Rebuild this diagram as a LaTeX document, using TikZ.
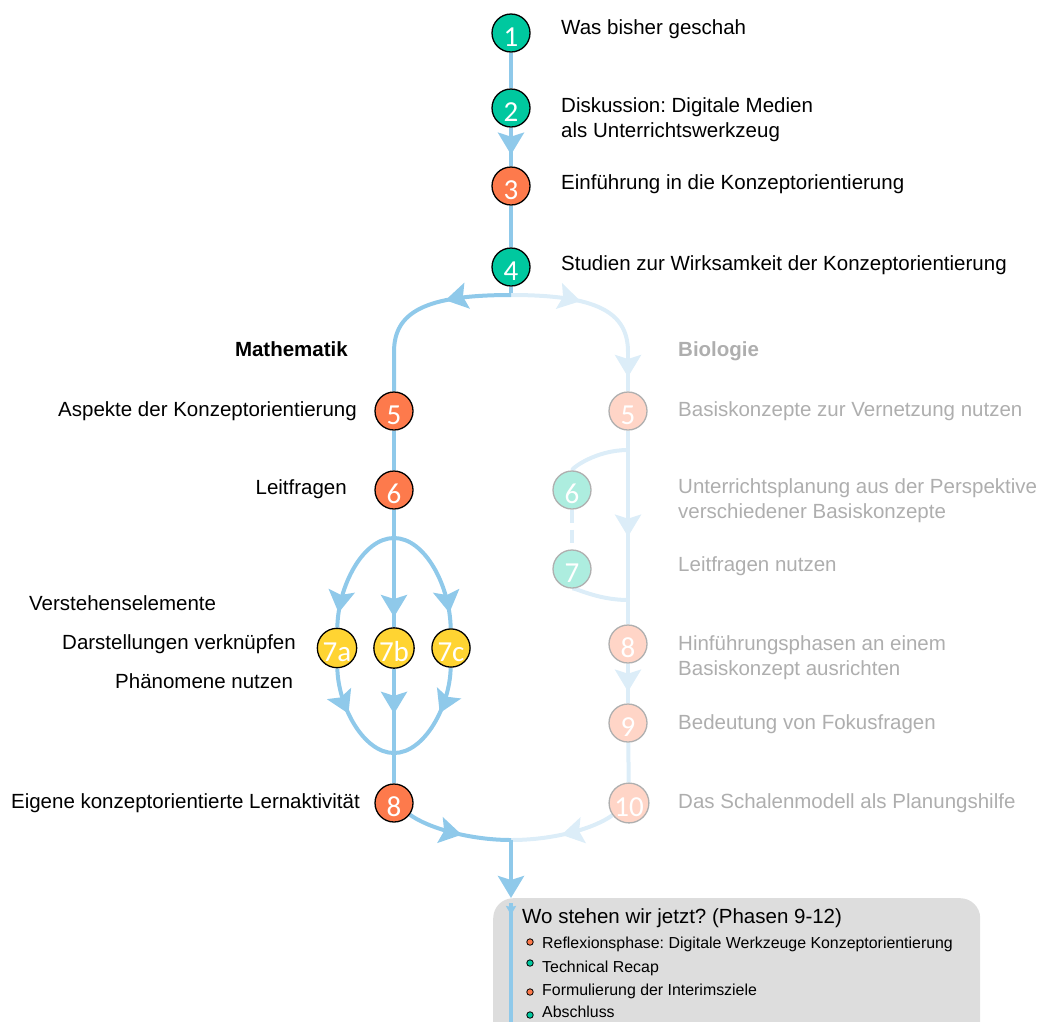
\documentclass[tikz,border=0pt]{standalone}
\usepackage{fontspec}
\setmainfont{Liberation Sans}
\newfontfamily\carlito{Carlito}
\usepackage{xcolor}
\usetikzlibrary{arrows.meta,positioning,calc,backgrounds,decorations.markings}

\definecolor{flowblue}{HTML}{8FC9EA}
\definecolor{fadeblue}{HTML}{DCEDF8}
\definecolor{greenc}{HTML}{00C89F}
\definecolor{orangec}{HTML}{FD7A4C}
\definecolor{yellowc}{HTML}{FFD432}
\definecolor{fadeorange}{HTML}{FFD5C7}
\definecolor{fadegreen}{HTML}{ADEDDF}
\definecolor{fadeborder}{HTML}{AFAFAF}
\definecolor{fadetext}{HTML}{AEAEAE}
\definecolor{boxgray}{HTML}{DDDDDD}

\newcommand{\lblfont}{\fontsize{20.5}{24.5}\selectfont}
\newcommand{\itemfont}{\fontsize{15.9}{19}\selectfont}
\newcommand{\numfont}{\carlito\fontsize{29}{29}\selectfont}
\frenchspacing

\begin{document}
\begin{tikzpicture}[x=1pt, y=-1pt,
    bigtip/.tip={Stealth[length=22pt,width=26pt,inset=4pt]},
    smalltip/.tip={Stealth[length=9pt,width=10pt,inset=1pt]},
    stage/.style={circle, draw=black, line width=1.3pt, minimum size=38pt, inner sep=0pt,
      text=white, font=\numfont, text height=27pt, text depth=0pt},
    stagegreen/.style={stage, fill=greenc},
    stageorange/.style={stage, fill=orangec},
    stageyellow/.style={stage, fill=yellowc},
    fadedorange/.style={stage, draw=fadeborder, fill=fadeorange},
    fadedgreen/.style={stage, draw=fadeborder, fill=fadegreen},
    lbl/.style={inner sep=0pt, font=\lblfont},
    fadelbl/.style={lbl, text=fadetext},
    itemlbl/.style={inner sep=0pt, font=\itemfont, anchor=base west},
    dot/.style={circle, draw=black, line width=0.8pt, minimum size=6.5pt, inner sep=0pt},
    flow/.style={flowblue, line width=4pt},
    fadeflow/.style={fadeblue, line width=4pt},
    arrowat/.style={postaction={decorate, decoration={markings,
      mark=at position #1 with {\arrow{bigtip}}}}},
    recapbox/.style={fill=boxgray, rounded corners=20pt, minimum width=487pt,
      minimum height=150pt, inner sep=0pt}]
  \useasboundingbox (0,0) rectangle (1043,1021);

  % common part
  \node[stagegreen] (s1) at (511,33) {1};
  \node[stagegreen] (s2) at (511,108) {2};
  \node[stageorange] (s3) at (511,186) {3};
  \node[stagegreen] (s4) at (511,267) {4};
  \node[lbl, anchor=base west] (was) at (561,34) {Was bisher geschah};
  \node[lbl, anchor=base west, align=left] (disk) at (561,137) {Diskussion: Digitale Medien\\als Unterrichtswerkzeug};
  \node[lbl, anchor=base west] (einf) at (561,189) {Einführung in die Konzeptorientierung};
  \node[lbl, anchor=base west] (stud) at (561,270) {Studien zur Wirksamkeit der Konzeptorientierung};

  % Mathematik
  \node[lbl, anchor=base east, font=\lblfont\bfseries] (mathe) at (348,356) {Mathematik};
  \node[stageorange] (ma5) at (394,411) {5};
  \node[stageorange] (ma6) at (394,490) {6};
  \node[stageyellow] (ma7a) at (337,648) {7a};
  \node[stageyellow] (ma7b) at (394,648) {7b};
  \node[stageyellow] (ma7c) at (451,648) {7c};
  \node[stageorange] (ma8) at (394,803) {8};
  \node[lbl, anchor=base east] (aspekte) at (357,416) {Aspekte der Konzeptorientierung};
  \node[lbl, anchor=base east] (leit) at (347,494) {Leitfragen};
  \node[lbl, anchor=base west] (verst) at (29,610) {Verstehenselemente};
  \node[lbl, anchor=base west] (darst) at (62,649) {Darstellungen verknüpfen};
  \node[lbl, anchor=base west] (phaen) at (115,688) {Phänomene nutzen};
  \node[lbl, anchor=base east] (eigene) at (360,808) {Eigene konzeptorientierte Lernaktivität};

  % Biologie
  \node[fadelbl, anchor=base west, font=\lblfont\bfseries] (bio) at (678,356) {Biologie};
  \node[fadedorange] (bio5) at (628,411) {5};
  \node[fadedgreen] (bio6) at (572,490) {6};
  \node[fadedgreen] (bio7) at (572,569) {7};
  \node[fadedorange] (bio8) at (628,644) {8};
  \node[fadedorange] (bio9) at (628,723) {9};
  \node[fadedorange] (bio10) at (629,803) {10};
  \node[fadelbl, anchor=base west] (basis) at (678,416) {Basiskonzepte zur Vernetzung nutzen};
  \node[fadelbl, anchor=base west, align=left] (unterr) at (678,518) {Unterrichtsplanung aus der Perspektive\\verschiedener Basiskonzepte};
  \node[fadelbl, anchor=base west] (leitbio) at (678,571) {Leitfragen nutzen};
  \node[fadelbl, anchor=base west, align=left] (hinf) at (678,675) {Hinführungsphasen an einem\\Basiskonzept ausrichten};
  \node[fadelbl, anchor=base west] (bedeut) at (678,729) {Bedeutung von Fokusfragen};
  \node[fadelbl, anchor=base west] (schalen) at (678,808) {Das Schalenmodell als Planungshilfe};

  % Phasen 9-12
  \node[lbl, anchor=base west] (wo) at (522,923) {Wo stehen wir jetzt? (Phasen 9-12)};
  \node[dot, fill=orangec] (d1) at (530,942) {};
  \node[dot, fill=greenc] (d2) at (530,963) {};
  \node[dot, fill=orangec] (d3) at (530,992) {};
  \node[dot, fill=greenc] (d4) at (530,1015) {};
  \node[itemlbl] (refl) at (542,948) {Reflexionsphase: Digitale Werkzeuge Konzeptorientierung};
  \node[itemlbl] (recap) at (542,972) {Technical Recap};
  \node[itemlbl] (formul) at (542,995) {Formulierung der Interimsziele};
  \node[itemlbl] (absch) at (542,1017) {Abschluss};

  \coordinate (topfork) at (511,295);
  \coordinate (mcorner) at (394,352);
  \coordinate (bcorner) at (628,352);
  \coordinate (elltop) at (394,538);
  \coordinate (ellbot) at (394,753);
  \coordinate (barc1) at (628,450);
  \coordinate (barc2) at (628,600);
  \coordinate (botjoin) at (511,840);
  \coordinate (boxin) at (511,903);
  \coordinate (boxout) at (511,1030);

  \begin{scope}[on background layer]
    \node[recapbox, anchor=north west] (phasen) at (493,898) {};

    \draw[flow] (s1) -- (s2);
    \draw[flow, arrowat=27pt] (s2) -- (s3);
    \draw[flow] (s3) -- (s4);
    \draw[flow] (s4) -- (topfork);

    \draw[fadeflow, arrowat=70pt] (topfork) .. controls (597,295) and (628,312) .. (bcorner);
    \draw[fadeflow, arrowat=25pt] (bcorner) -- (bio5);
    \draw[flow, arrowat=66pt] (topfork) .. controls (425,295) and (394,312) .. (mcorner) -- (ma5);

    \draw[flow] (ma5) -- (ma6);
    \draw[flow] (ma6) -- (elltop);
    \draw[flow, arrowat=79pt] (elltop) -- (ma7b);
    \draw[flow, arrowat=45pt] (ma7b) -- (ellbot);
    \draw[flow] (ellbot) -- (ma8);
    \draw[flow, arrowat=100pt] (elltop) .. controls (363,538) and (338,586) .. (ma7a);
    \draw[flow, arrowat=47pt] (ma7a) .. controls (338,705) and (363,753) .. (ellbot);
    \draw[flow, arrowat=100pt] (elltop) .. controls (425,538) and (450,586) .. (ma7c);
    \draw[flow, arrowat=47pt] (ma7c) .. controls (450,705) and (425,753) .. (ellbot);

    \draw[fadeflow, arrowat=106pt] (bio5) -- (bio8);
    \draw[fadeflow] (barc1) .. controls (596,450) and (572,468) .. (bio6);
    \draw[fadeflow, dash pattern=on 13pt off 7pt] (bio6) -- (bio7);
    \draw[fadeflow] (bio7) .. controls (572,586) and (596,600) .. (barc2);
    \draw[fadeflow, arrowat=28pt] (bio8) -- (bio9);
    \draw[fadeflow] (bio9) -- (bio10);

    \draw[fadeflow, arrowat=55pt] (bio10) .. controls (595,828) and (555,840) .. (botjoin);
    \draw[flow, arrowat=56pt] (ma8) .. controls (428,828) and (470,840) .. (botjoin);
    \draw[flow, -bigtip] (botjoin) -- (botjoin |- phasen.north);

    \draw[flow, postaction={decorate, decoration={markings,
      mark=at position 12pt with {\arrow{smalltip}}}}] (boxin) -- (boxout);
  \end{scope}
\end{tikzpicture}
\end{document}
